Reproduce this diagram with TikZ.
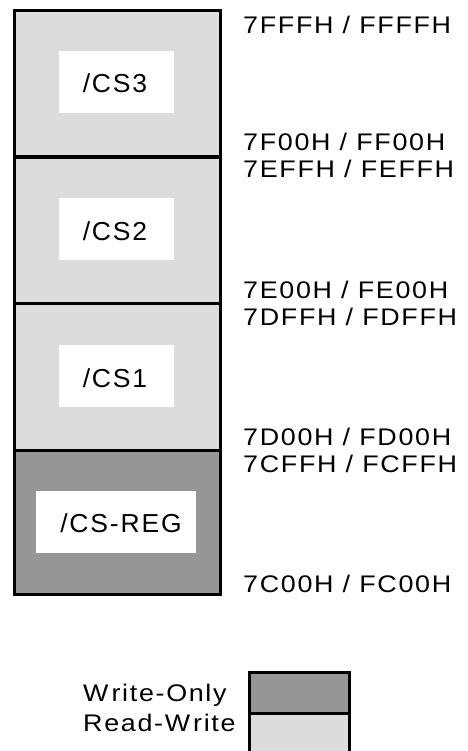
\documentclass[tikz,border=0pt]{standalone}
\usepackage{fontspec}
\setmainfont{Liberation Sans}[LetterSpace=7,FakeStretch=1.12]
\newfontfamily\boxfont{Liberation Sans}[LetterSpace=7,FakeStretch=1.02]
\definecolor{rwgray}{RGB}{220,220,220}
\definecolor{wogray}{RGB}{150,150,150}
\begin{document}
\begin{tikzpicture}[x=1pt,y=-1pt,
  region/.style={draw=black,line width=3.2pt,anchor=north west,inner sep=0pt,minimum width=206pt,minimum height=147pt},
  csbox/.style={fill=white,anchor=north west,inner sep=0pt,minimum height=62pt},
  cstext/.style={anchor=base,inner sep=0pt,font=\boxfont\fontsize{26}{30}\selectfont},
  addr/.style={anchor=base west,inner sep=0pt,font=\fontsize{24}{28}\selectfont},
  legbox/.style={draw=black,line width=3.2pt,anchor=north west,inner sep=0pt,minimum width=100pt}]
\clip (0,0) rectangle (467,751);
\fill[white] (0,0) rectangle (467,751);
% regions
\node[region,fill=rwgray] (r3) at (13,9) {};
\node[region,fill=rwgray] (r2) at (13,155.5) {};
\node[region,fill=rwgray] (r1) at (13,302) {};
\node[region,fill=wogray,minimum height=144pt] (r0) at (13,449) {};
% white label boxes
\node[csbox,minimum width=115pt] (w3) at (59,51) {};
\node[csbox,minimum width=115pt] (w2) at (59,198) {};
\node[csbox,minimum width=115pt] (w1) at (59,345) {};
\node[csbox,minimum width=160pt] (w0) at (36,491) {};
\node[cstext] (t3) at (115,93) {/CS3};
\node[cstext] (t2) at (115,240) {/CS2};
\node[cstext] (t1) at (115,387) {/CS1};
\node[cstext] (t0) at (121,532) {/CS-REG};
% addresses
\node[addr] (a1) at (243,34) {7FFFH / FFFFH};
\node[addr] (a2) at (243,151) {7F00H / FF00H};
\node[addr] (a3) at (243,178) {7EFFH / FEFFH};
\node[addr] (a4) at (243,298) {7E00H / FE00H};
\node[addr] (a5) at (243,325) {7DFFH / FDFFH};
\node[addr] (a6) at (243,445) {7D00H / FD00H};
\node[addr] (a7) at (243,472) {7CFFH / FCFFH};
\node[addr] (a8) at (243,592) {7C00H / FC00H};
% legend
\node[legbox,fill=wogray,minimum height=41pt] (lw) at (247.5,671) {};
\node[legbox,fill=rwgray,minimum height=50pt] (lr) at (247.5,712) {};
\node[addr] (lwt) at (83,701) {W\kern3pt rite-Only};
\node[addr] (lrt) at (83,731) {Read-W\kern3pt rite};
\end{tikzpicture}
\end{document}
